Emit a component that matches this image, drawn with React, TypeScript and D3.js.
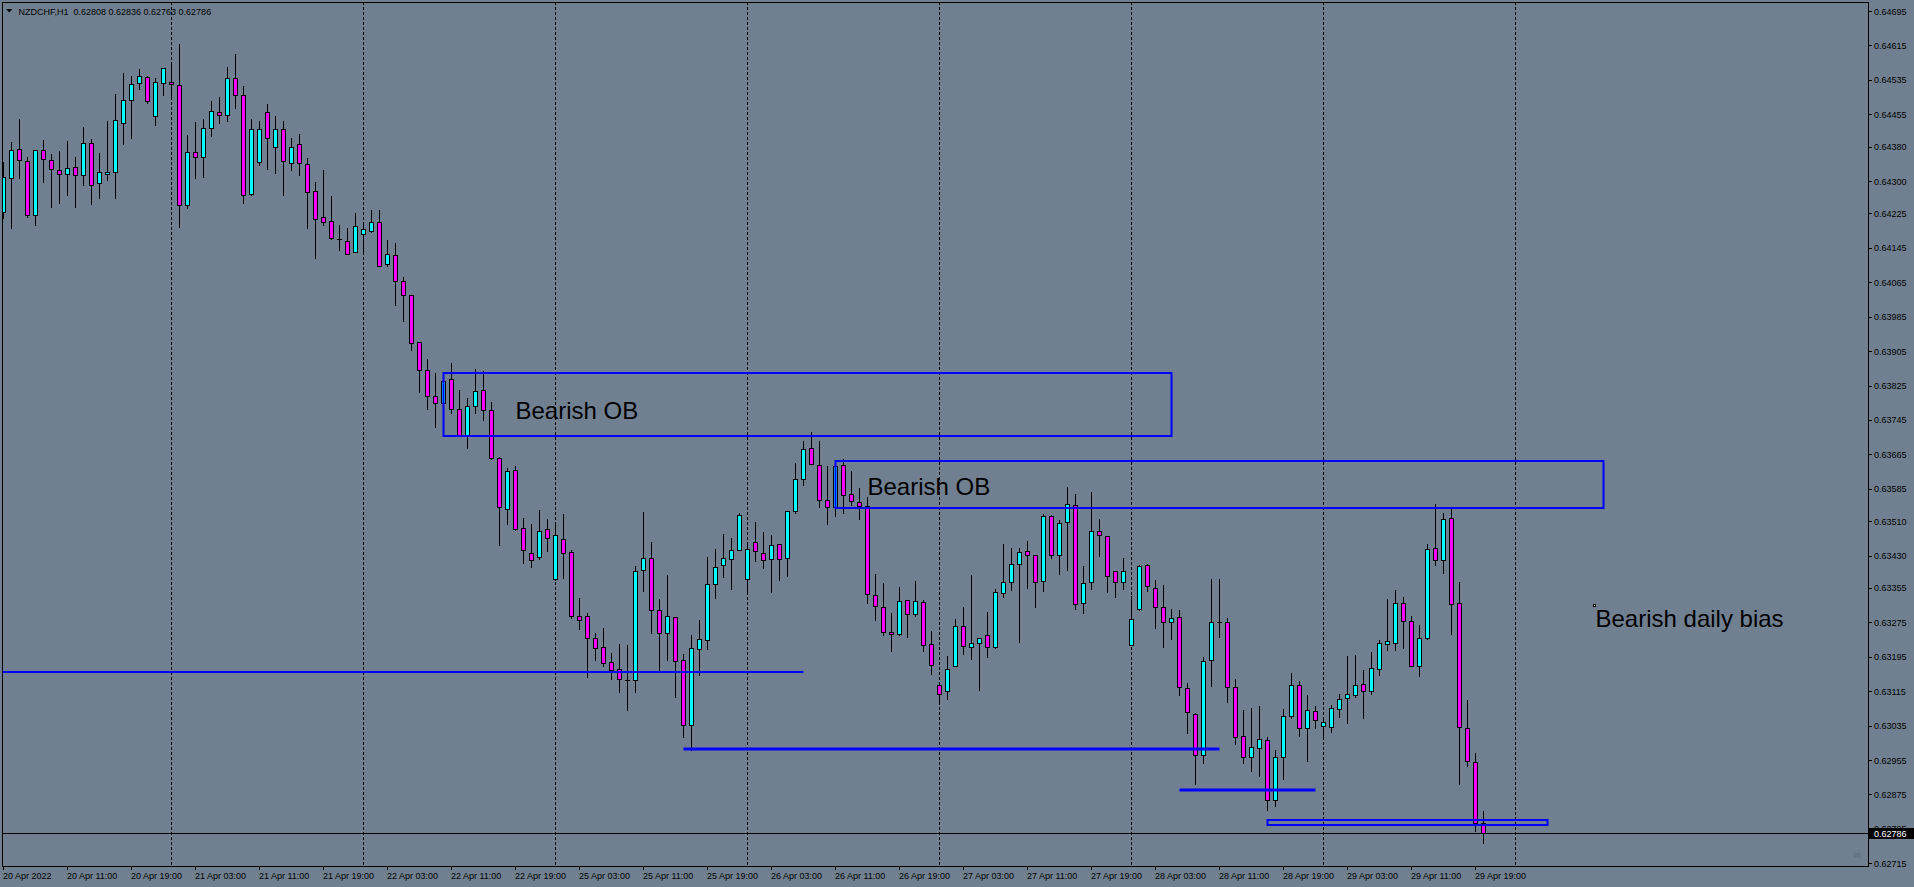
import * as d3 from 'd3';

// NZDCHF H1, 20 Apr 2022 03:00 .. 29 Apr 2022 20:00 (one value per hourly bar)
const symbol = 'NZDCHF,H1';

const opens = [
  0.64227, 0.64306, 0.64374, 0.64346, 0.64220, 0.64372, 0.64348, 0.64325, 0.64316, 0.64332,
  0.64313, 0.64388, 0.64295, 0.64316, 0.64320, 0.64434, 0.64488, 0.64527, 0.64541, 0.64450,
  0.64527, 0.64529, 0.64522, 0.64244, 0.64367, 0.64355, 0.64423, 0.64460, 0.64453, 0.64540,
  0.64500, 0.64271, 0.64344, 0.64460, 0.64380, 0.64420, 0.64341, 0.64385, 0.64339, 0.64276,
  0.64216, 0.64207, 0.64165, 0.64160, 0.64135, 0.64176, 0.64183, 0.64204, 0.64107, 0.64128,
  0.64067, 0.64035, 0.63925, 0.63860, 0.63801, 0.63784, 0.63840, 0.63770, 0.63707, 0.63777,
  0.63814, 0.63768, 0.63656, 0.63538, 0.63628, 0.63493, 0.63435, 0.63426, 0.63491, 0.63375,
  0.63468, 0.63438, 0.63289, 0.63289, 0.63238, 0.63217, 0.63182, 0.63166, 0.63142, 0.63140,
  0.63396, 0.63424, 0.63303, 0.63249, 0.63287, 0.63187, 0.63036, 0.63212, 0.63233, 0.63363,
  0.63407, 0.63421, 0.63442, 0.63375, 0.63461, 0.63435, 0.63421, 0.63456, 0.63424, 0.63533,
  0.63607, 0.63679, 0.63640, 0.63558, 0.63542, 0.63640, 0.63572, 0.63554, 0.63545, 0.63338,
  0.63310, 0.63252, 0.63247, 0.63326, 0.63294, 0.63322, 0.63224, 0.63129, 0.63115, 0.63173,
  0.63266, 0.63217, 0.63226, 0.63245, 0.63217, 0.63342, 0.63368, 0.63410, 0.63440, 0.63431,
  0.63370, 0.63521, 0.63431, 0.63507, 0.63547, 0.63319, 0.63368, 0.63486, 0.63475, 0.63394,
  0.63368, 0.63222, 0.63305, 0.63407, 0.63354, 0.63310, 0.63275, 0.63287, 0.63122, 0.63061,
  0.62966, 0.63187, 0.63275, 0.63275, 0.63124, 0.63010, 0.62961, 0.62982, 0.63001, 0.62862,
  0.62961, 0.63057, 0.63129, 0.63029, 0.63068, 0.63033, 0.63031, 0.63073, 0.63098, 0.63105,
  0.63131, 0.63115, 0.63166, 0.63224, 0.63226, 0.63319, 0.63277, 0.63173, 0.63238, 0.63447,
  0.63419, 0.63517, 0.63319, 0.63029, 0.62950, 0.62808,
];

const highs = [
  0.64345, 0.64391, 0.64444, 0.64356, 0.64372, 0.64395, 0.64363, 0.64370, 0.64393, 0.64356,
  0.64426, 0.64398, 0.64365, 0.64440, 0.64502, 0.64551, 0.64543, 0.64560, 0.64543, 0.64539,
  0.64562, 0.64577, 0.64618, 0.64407, 0.64437, 0.64444, 0.64486, 0.64495, 0.64565, 0.64595,
  0.64520, 0.64445, 0.64440, 0.64480, 0.64450, 0.64440, 0.64400, 0.64410, 0.64354, 0.64297,
  0.64326, 0.64265, 0.64198, 0.64190, 0.64226, 0.64197, 0.64232, 0.64232, 0.64162, 0.64155,
  0.64076, 0.64035, 0.63925, 0.63886, 0.63853, 0.63853, 0.63877, 0.63815, 0.63795, 0.63863,
  0.63858, 0.63786, 0.63658, 0.63633, 0.63637, 0.63517, 0.63503, 0.63535, 0.63514, 0.63503,
  0.63526, 0.63442, 0.63332, 0.63296, 0.63249, 0.63261, 0.63203, 0.63224, 0.63222, 0.63405,
  0.63531, 0.63462, 0.63329, 0.63385, 0.63287, 0.63201, 0.63245, 0.63280, 0.63426, 0.63445,
  0.63479, 0.63470, 0.63528, 0.63461, 0.63507, 0.63484, 0.63477, 0.63456, 0.63533, 0.63644,
  0.63696, 0.63717, 0.63696, 0.63637, 0.63649, 0.63654, 0.63626, 0.63586, 0.63565, 0.63387,
  0.63366, 0.63296, 0.63356, 0.63326, 0.63370, 0.63326, 0.63254, 0.63129, 0.63196, 0.63282,
  0.63310, 0.63384, 0.63238, 0.63298, 0.63352, 0.63456, 0.63447, 0.63447, 0.63463, 0.63431,
  0.63526, 0.63524, 0.63512, 0.63589, 0.63572, 0.63406, 0.63578, 0.63515, 0.63475, 0.63394,
  0.63424, 0.63335, 0.63407, 0.63410, 0.63373, 0.63361, 0.63305, 0.63303, 0.63133, 0.63064,
  0.63194, 0.63375, 0.63375, 0.63284, 0.63143, 0.63071, 0.63075, 0.63080, 0.63008, 0.62978,
  0.63073, 0.63157, 0.63138, 0.63105, 0.63080, 0.63056, 0.63082, 0.63108, 0.63196, 0.63198,
  0.63164, 0.63205, 0.63233, 0.63328, 0.63349, 0.63333, 0.63289, 0.63268, 0.63456, 0.63549,
  0.63528, 0.63540, 0.63368, 0.63094, 0.62971, 0.62836,
];

const lows = [
  0.64215, 0.64192, 0.64308, 0.64217, 0.64199, 0.64298, 0.64240, 0.64250, 0.64268, 0.64240,
  0.64292, 0.64247, 0.64261, 0.64303, 0.64261, 0.64387, 0.64401, 0.64513, 0.64481, 0.64431,
  0.64501, 0.64496, 0.64194, 0.64238, 0.64306, 0.64310, 0.64405, 0.64436, 0.64440, 0.64470,
  0.64250, 0.64268, 0.64338, 0.64329, 0.64319, 0.64268, 0.64326, 0.64315, 0.64192, 0.64122,
  0.64199, 0.64165, 0.64141, 0.64130, 0.64135, 0.64137, 0.64181, 0.64102, 0.64102, 0.64011,
  0.63976, 0.63908, 0.63811, 0.63771, 0.63729, 0.63770, 0.63761, 0.63707, 0.63679, 0.63761,
  0.63744, 0.63654, 0.63455, 0.63503, 0.63489, 0.63412, 0.63403, 0.63421, 0.63440, 0.63373,
  0.63377, 0.63284, 0.63260, 0.63147, 0.63187, 0.63173, 0.63143, 0.63112, 0.63072, 0.63112,
  0.63347, 0.63251, 0.63160, 0.63188, 0.63102, 0.63008, 0.62978, 0.63152, 0.63212, 0.63332,
  0.63381, 0.63353, 0.63442, 0.63344, 0.63418, 0.63402, 0.63346, 0.63374, 0.63383, 0.63528,
  0.63595, 0.63642, 0.63542, 0.63503, 0.63521, 0.63528, 0.63547, 0.63514, 0.63319, 0.63280,
  0.63245, 0.63208, 0.63245, 0.63240, 0.63289, 0.63208, 0.63154, 0.63085, 0.63096, 0.63173,
  0.63201, 0.63189, 0.63117, 0.63194, 0.63215, 0.63333, 0.63349, 0.63229, 0.63354, 0.63310,
  0.63347, 0.63424, 0.63387, 0.63396, 0.63305, 0.63296, 0.63352, 0.63428, 0.63345, 0.63333,
  0.63352, 0.63222, 0.63303, 0.63347, 0.63261, 0.63218, 0.63236, 0.63105, 0.63017, 0.62899,
  0.62947, 0.63126, 0.63240, 0.63089, 0.62992, 0.62947, 0.62929, 0.62917, 0.62839, 0.62848,
  0.62910, 0.63052, 0.63010, 0.62952, 0.63029, 0.63008, 0.63020, 0.63056, 0.63041, 0.63101,
  0.63053, 0.63108, 0.63152, 0.63210, 0.63210, 0.63216, 0.63173, 0.63151, 0.63236, 0.63407,
  0.63389, 0.63247, 0.62899, 0.62941, 0.62790, 0.62763,
];

const closes = [
  0.64309, 0.64372, 0.64348, 0.64222, 0.64372, 0.64351, 0.64327, 0.64316, 0.64330, 0.64313,
  0.64388, 0.64292, 0.64320, 0.64320, 0.64441, 0.64488, 0.64525, 0.64543, 0.64485, 0.64529,
  0.64562, 0.64525, 0.64244, 0.64367, 0.64355, 0.64423, 0.64462, 0.64453, 0.64540, 0.64500,
  0.64267, 0.64420, 0.64420, 0.64400, 0.64420, 0.64346, 0.64380, 0.64341, 0.64275, 0.64213,
  0.64204, 0.64167, 0.64165, 0.64130, 0.64195, 0.64188, 0.64204, 0.64102, 0.64130, 0.64067,
  0.64035, 0.63923, 0.63860, 0.63800, 0.63784, 0.63835, 0.63770, 0.63707, 0.63777, 0.63812,
  0.63768, 0.63656, 0.63542, 0.63626, 0.63491, 0.63442, 0.63419, 0.63486, 0.63470, 0.63477,
  0.63435, 0.63289, 0.63280, 0.63238, 0.63215, 0.63180, 0.63164, 0.63143, 0.63142, 0.63394,
  0.63424, 0.63303, 0.63249, 0.63289, 0.63184, 0.63036, 0.63215, 0.63236, 0.63363, 0.63403,
  0.63424, 0.63442, 0.63524, 0.63445, 0.63440, 0.63419, 0.63454, 0.63421, 0.63533, 0.63607,
  0.63677, 0.63642, 0.63558, 0.63542, 0.63637, 0.63570, 0.63556, 0.63545, 0.63340, 0.63312,
  0.63252, 0.63247, 0.63324, 0.63294, 0.63324, 0.63222, 0.63175, 0.63108, 0.63166, 0.63266,
  0.63219, 0.63226, 0.63238, 0.63217, 0.63345, 0.63368, 0.63410, 0.63438, 0.63431, 0.63368,
  0.63521, 0.63431, 0.63505, 0.63549, 0.63317, 0.63366, 0.63486, 0.63477, 0.63382, 0.63368,
  0.63394, 0.63282, 0.63405, 0.63359, 0.63310, 0.63275, 0.63284, 0.63124, 0.63066, 0.62966,
  0.63184, 0.63275, 0.63275, 0.63124, 0.63008, 0.62961, 0.62985, 0.63003, 0.62862, 0.62961,
  0.63057, 0.63129, 0.63029, 0.63071, 0.63047, 0.63043, 0.63075, 0.63096, 0.63108, 0.63129,
  0.63115, 0.63168, 0.63226, 0.63231, 0.63319, 0.63277, 0.63173, 0.63238, 0.63445, 0.63419,
  0.63514, 0.63317, 0.63031, 0.62952, 0.62808, 0.62786,
];

// midnight bars (period separators)
const dayBreaks = [21, 45, 69, 93, 117, 141, 165, 189];

const timeLabelBars = [0, 8, 16, 24, 32, 40, 48, 56, 64, 72, 80, 88, 96, 104, 112, 120, 128, 136, 144, 152, 160, 168, 176, 184];
const timeLabels = [
  '20 Apr 2022', '20 Apr 11:00', '20 Apr 19:00', '21 Apr 03:00', '21 Apr 11:00', '21 Apr 19:00',
  '22 Apr 03:00', '22 Apr 11:00', '22 Apr 19:00', '25 Apr 03:00', '25 Apr 11:00', '25 Apr 19:00',
  '26 Apr 03:00', '26 Apr 11:00', '26 Apr 19:00', '27 Apr 03:00', '27 Apr 11:00', '27 Apr 19:00',
  '28 Apr 03:00', '28 Apr 11:00', '28 Apr 19:00', '29 Apr 03:00', '29 Apr 11:00', '29 Apr 19:00',
];

const priceTicks = [
  0.64695, 0.64615, 0.64535, 0.64455, 0.64380, 0.64300, 0.64225, 0.64145, 0.64065, 0.63985,
  0.63905, 0.63825, 0.63745, 0.63665, 0.63585, 0.63510, 0.63430, 0.63355, 0.63275, 0.63195,
  0.63115, 0.63035, 0.62955, 0.62875, 0.62795, 0.62715,
];

// order block rectangles (bar from, bar to, upper price, lower price)
const zoneFrom = [55, 104, 158];
const zoneTo = [146, 200, 193];
const zoneTop = [0.63855, 0.63650, 0.62815];
const zoneBottom = [0.63708, 0.63541, 0.62805];

// horizontal trend lines
const levelFrom = [-20, 85, 147];
const levelTo = [100, 152, 164];
const levelPrice = [0.63160, 0.62980, 0.62885];

// text objects, anchored at their upper-left corner
const noteText = ['Bearish OB', 'Bearish OB', 'Bearish daily bias'];
const noteBar = [64, 108, 199];
const notePrice = [0.63799, 0.63623, 0.63317];

const BG = '#708090';
const BULL = '#00ffff';
const BEAR = '#ff00ff';
const OBJ = '#0000ff';
const FONT = '"Liberation Sans", Arial, sans-serif';

export default function App() {
  const left = 2, top = 2, right = 1868, bottom = 866;

  const x = d3.scaleLinear().domain([0, 185]).range([3.5, 1483.5]);
  const y = d3.scaleLinear().domain([0.6270888, 0.6471595]).range([bottom, top]);
  const py = (p: number) => Math.round(y(p));

  const last = opens.length - 1;
  const header = `${symbol}  ${opens[last].toFixed(5)} ${highs[last].toFixed(5)} ${lows[last].toFixed(5)} ${closes[last].toFixed(5)}`;
  const lastY = py(closes[last]) + 0.5;

  return (
    <div style={{ position: 'fixed', left: 0, top: 0 }}>
      <svg width={1914} height={887} style={{ display: 'block' }}>
        <defs>
          <clipPath id="plot">
            <rect x={left} y={top} width={right - left} height={bottom - top} />
          </clipPath>
        </defs>
        <rect x={0} y={0} width={1914} height={887} fill={BG} />

        <g clipPath="url(#plot)">
          {/* period separators */}
          {dayBreaks.map(b => (
            <line key={b} x1={x(b)} x2={x(b)} y1={top} y2={bottom} stroke="#000" strokeDasharray="3 2" />
          ))}

          {/* candles */}
          {opens.map((o, i) => {
            const c = closes[i];
            const cx = x(i);
            const yo = py(o), yc = py(c);
            const t = Math.min(yo, yc), b = Math.max(yo, yc);
            return (
              <g key={i}>
                <line x1={cx} x2={cx} y1={py(highs[i])} y2={py(lows[i]) + 1} stroke="#000" />
                {b - t >= 1 ? (
                  <rect x={cx - 2} y={t + 0.5} width={4} height={b - t} fill={c > o ? BULL : BEAR} stroke="#000" />
                ) : (
                  <line x1={cx - 2.5} x2={cx + 2.5} y1={t + 0.5} y2={t + 0.5} stroke="#000" />
                )}
              </g>
            );
          })}

          {/* current price line */}
          <line x1={left} x2={right} y1={lastY} y2={lastY} stroke="#000" />

          {/* objects */}
          {zoneFrom.map((f, i) => (
            <rect key={'z' + i} x={x(f)} y={py(zoneTop[i])} width={x(zoneTo[i]) - x(f)}
              height={py(zoneBottom[i]) - py(zoneTop[i])} fill="none" stroke={OBJ} strokeWidth={2} />
          ))}
          {levelFrom.map((f, i) => (
            <line key={'l' + i} x1={x(f)} x2={x(levelTo[i])} y1={py(levelPrice[i])} y2={py(levelPrice[i])}
              stroke={OBJ} strokeWidth={i === 0 ? 2 : 3} />
          ))}
          {noteText.map((t, i) => (
            <text key={'n' + i} x={x(noteBar[i])} y={y(notePrice[i]) + 22.5} fontFamily={FONT} fontSize={24} fill="#000">
              {t}
            </text>
          ))}
          <rect x={x(noteBar[2]) - 2} y={Math.round(y(notePrice[2])) + 0.5} width={2} height={2} fill="#fff" stroke="#000" />
        </g>

        {/* frame */}
        <rect x={left + 0.5} y={top + 0.5} width={right - left} height={bottom - top} fill="none" stroke="#000" />

        {/* price axis */}
        {priceTicks.map(p => (
          <g key={p}>
            <line x1={right} x2={right + 4} y1={py(p) + 0.5} y2={py(p) + 0.5} stroke="#000" />
            <text x={1874} y={y(p) + 3.5} fontFamily={FONT} fontSize={9} fill="#000">{p.toFixed(5)}</text>
          </g>
        ))}
        <rect x={1869} y={lastY - 5.5} width={45} height={11} fill="#000" />
        <text x={1874} y={lastY + 3.5} fontFamily={FONT} fontSize={9} fill="#fff">{closes[last].toFixed(5)}</text>
        <text x={1852} y={858} fontFamily='"DejaVu Sans", sans-serif' fontSize={11} fill="#5d6a78">☠</text>

        {/* time axis */}
        {timeLabelBars.map((b, i) => (
          <g key={b}>
            <line x1={x(b)} x2={x(b)} y1={bottom} y2={bottom + 4} stroke="#000" />
            <text x={x(b) - 0.5} y={879} fontFamily={FONT} fontSize={9} fill="#000">{timeLabels[i]}</text>
          </g>
        ))}

        {/* header */}
        <polygon points="6,9 12.5,9 9.25,12.5" fill="#000" />
        <text x={18.5} y={14.5} fontFamily={FONT} fontSize={9} fill="#000" style={{ whiteSpace: 'pre' }}>{header}</text>
      </svg>
    </div>
  );
}
